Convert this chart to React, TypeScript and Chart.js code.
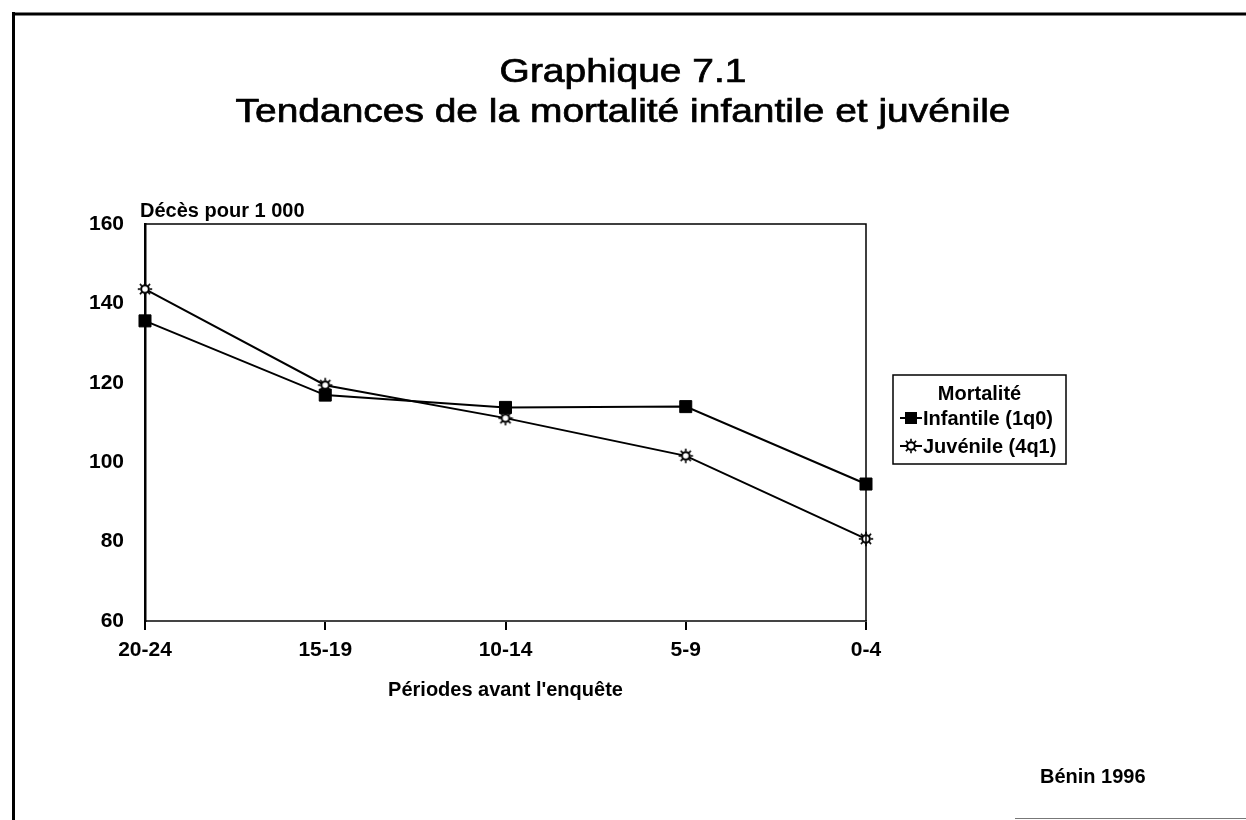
import React, { useEffect, useRef } from "react";
import { Chart, registerables } from "chart.js";

Chart.register(...registerables);

const categories = ["20-24", "15-19", "10-14", "5-9", "0-4"];
const infantile = [135.6, 116.9, 113.8, 114.0, 94.5];
const juvenile = [143.6, 119.4, 111.1, 101.6, 80.7];
const seriesNames = ["Infantile (1q0)", "Juvénile (4q1)"];
const yTicks = { min: 60, max: 160, step: 20 };
const titleLines = ["Graphique 7.1", "Tendances de la mortalité infantile et juvénile"];
const yAxisTitle = "Décès pour 1 000";
const xAxisTitle = "Périodes avant l'enquête";
const legendTitle = "Mortalité";
const sourceNote = "Bénin 1996";

const FONT = '"Liberation Sans", Arial, Helvetica, sans-serif';

function makeSun(): HTMLCanvasElement {
  const c = document.createElement("canvas");
  c.width = 16;
  c.height = 16;
  const g = c.getContext("2d")!;
  g.strokeStyle = "#000";
  g.fillStyle = "#fff";
  g.lineWidth = 2;
  g.beginPath();
  g.arc(8, 8, 3.8, 0, Math.PI * 2);
  g.fill();
  g.stroke();
  g.lineWidth = 1.6;
  for (let i = 0; i < 8; i++) {
    const a = (i * Math.PI) / 4;
    g.beginPath();
    g.moveTo(8 + Math.cos(a) * 4.5, 8 + Math.sin(a) * 4.5);
    g.lineTo(8 + Math.cos(a) * 7.2, 8 + Math.sin(a) * 7.2);
    g.stroke();
  }
  return c;
}

export default function App() {
  const ref = useRef<HTMLCanvasElement | null>(null);

  useEffect(() => {
    if (!ref.current) return;
    const sun = makeSun();

    const decor = {
      id: "decor",
      beforeDraw(chart: any) {
        const ctx = chart.ctx as CanvasRenderingContext2D;
        ctx.save();
        ctx.fillStyle = "#fff";
        ctx.fillRect(0, 0, chart.width, chart.height);
        ctx.strokeStyle = "#000";
        ctx.lineWidth = 3;
        ctx.beginPath();
        ctx.moveTo(12, 14);
        ctx.lineTo(1246, 14);
        ctx.moveTo(13.5, 12);
        ctx.lineTo(13.5, 820);
        ctx.stroke();
        ctx.strokeStyle = "#777";
        ctx.lineWidth = 1;
        ctx.beginPath();
        ctx.moveTo(1015, 818.5);
        ctx.lineTo(1246, 818.5);
        ctx.stroke();
        ctx.restore();
      },
      afterDraw(chart: any) {
        const ctx = chart.ctx as CanvasRenderingContext2D;
        const a = chart.chartArea;
        ctx.save();
        ctx.strokeStyle = "#000";
        ctx.lineWidth = 1.5;
        ctx.beginPath();
        ctx.moveTo(a.left, a.top);
        ctx.lineTo(a.right, a.top);
        ctx.lineTo(a.right, a.bottom);
        ctx.stroke();

        ctx.fillStyle = "#000";
        ctx.font = `33px ${FONT}`;
        ctx.textAlign = "center";
        ctx.textBaseline = "alphabetic";
        const cx = 623;
        const baselines = [82, 122];
        titleLines.forEach((t, i) => {
          ctx.save();
          ctx.translate(cx, baselines[i]);
          ctx.scale(1.18, 1);
          ctx.lineWidth = 0.7;
          ctx.fillText(t, 0, 0);
          ctx.strokeText(t, 0, 0);
          ctx.restore();
        });

        ctx.font = `bold 20px ${FONT}`;
        ctx.textAlign = "left";
        ctx.fillText(yAxisTitle, a.left - 5, a.top - 7);
        ctx.textAlign = "center";
        ctx.fillText(xAxisTitle, (a.left + a.right) / 2, a.bottom + 75);
        ctx.textAlign = "left";
        ctx.fillText(sourceNote, 1040, 783);

        const lx = 893, ly = 375, lw = 173, lh = 89;
        ctx.strokeStyle = "#000";
        ctx.lineWidth = 1.5;
        ctx.strokeRect(lx, ly, lw, lh);
        ctx.textAlign = "center";
        ctx.fillText(legendTitle, lx + lw / 2, ly + 25);
        ctx.textAlign = "left";
        const rows = [ly + 43, ly + 71];
        rows.forEach((ry, i) => {
          ctx.lineWidth = 2;
          ctx.beginPath();
          ctx.moveTo(lx + 7, ry);
          ctx.lineTo(lx + 29, ry);
          ctx.stroke();
          const mx = lx + 18;
          if (i === 0) {
            ctx.fillRect(mx - 6, ry - 6, 12, 12);
          } else {
            ctx.drawImage(sun, mx - 8, ry - 8);
          }
          ctx.fillText(seriesNames[i], lx + 30, ry + 7);
        });
        ctx.restore();
      },
    };

    const chart = new Chart(ref.current, {
      type: "line",
      data: {
        labels: categories,
        datasets: [
          {
            label: seriesNames[0],
            data: infantile,
            borderColor: "#000",
            backgroundColor: "#000",
            borderWidth: 2,
            pointStyle: "rect",
            pointRadius: 8.5,
            pointBorderWidth: 1,
            pointBackgroundColor: "#000",
            pointBorderColor: "#000",
            tension: 0,
            clip: false as any,
          },
          {
            label: seriesNames[1],
            data: juvenile,
            borderColor: "#000",
            backgroundColor: "#fff",
            borderWidth: 2,
            pointStyle: sun as any,
            pointRadius: 7,
            tension: 0,
            clip: false as any,
          },
        ],
      },
      plugins: [decor],
      options: {
        animation: false,
        responsive: false,
        events: [],
        layout: { padding: { top: 224, right: 380, bottom: 159, left: 0 } },
        plugins: {
          legend: { display: false },
          title: { display: false },
          tooltip: { enabled: false },
        },
        scales: {
          x: {
            type: "category",
            offset: false,
            afterFit: (s: any) => {
              s.height = 40;
            },
            grid: {
              display: true,
              drawOnChartArea: false,
              drawTicks: true,
              tickLength: 9,
              color: "#000",
              lineWidth: 2,
            },
            border: { display: true, color: "#444", width: 2 },
            ticks: {
              color: "#000",
              font: { family: FONT, size: 21, weight: "bold" },
              padding: 8,
              maxRotation: 0,
              autoSkip: false,
            },
          },
          y: {
            min: yTicks.min,
            max: yTicks.max,
            afterFit: (s: any) => {
              s.width = 145;
            },
            grid: { display: false, drawTicks: false },
            border: { display: true, color: "#000", width: 2.5 },
            ticks: {
              stepSize: yTicks.step,
              color: "#000",
              font: { family: FONT, size: 21, weight: "bold" },
              padding: 21,
            },
          },
        },
      },
    });
    return () => chart.destroy();
  }, []);

  return (
    <canvas
      ref={ref}
      width={1246}
      height={820}
      style={{ position: "fixed", left: 0, top: 0, display: "block" }}
    />
  );
}
